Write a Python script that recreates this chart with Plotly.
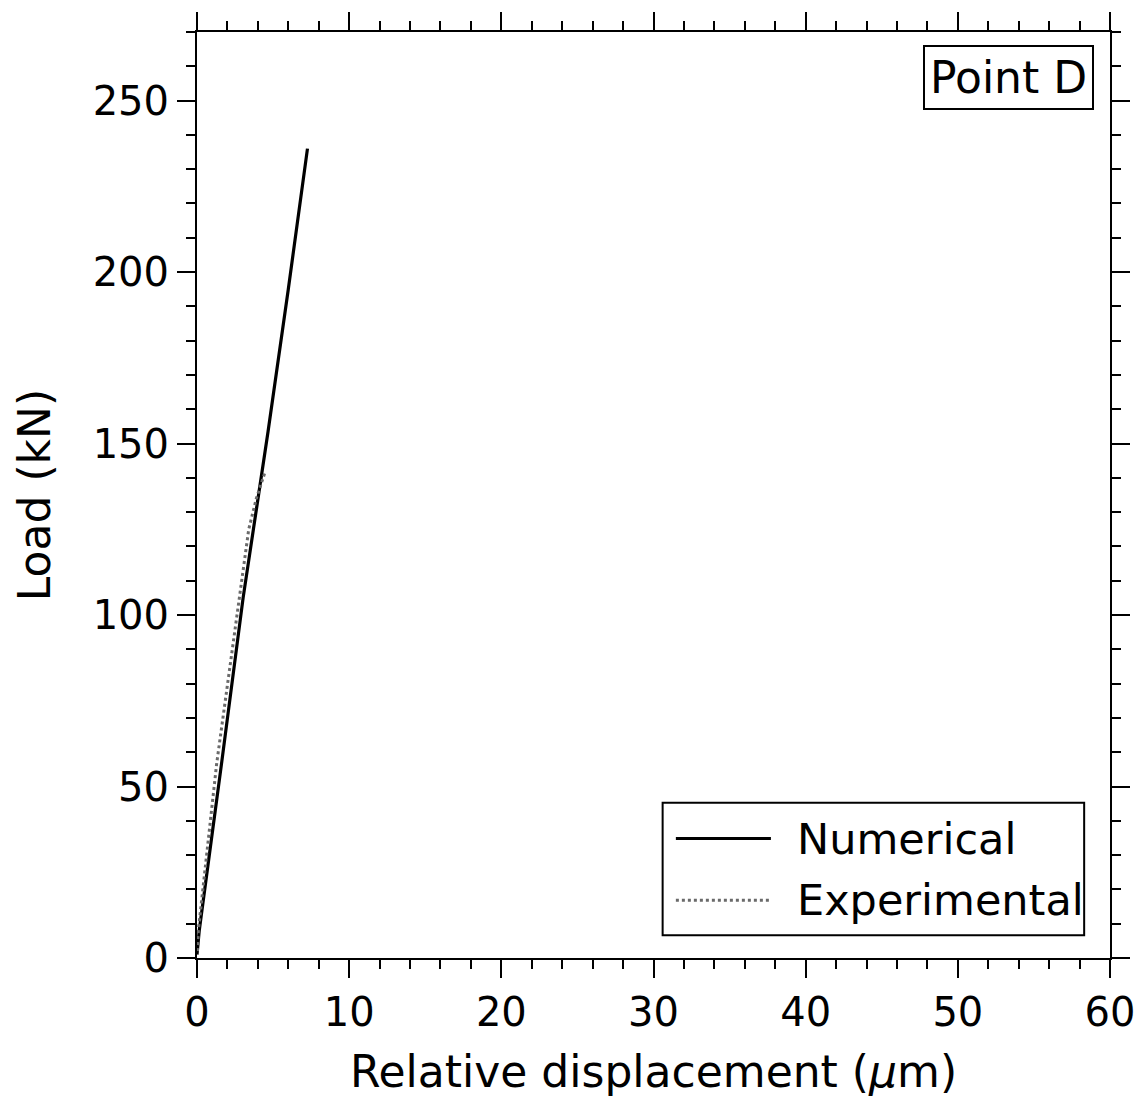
import plotly.graph_objects as go

# Data
num_x = [0.0, 0.15, 1.61, 3.03, 4.67, 6.0, 7.26]
num_y = [1.0, 8.1, 56.6, 105.0, 153.5, 195.0, 236.0]

exp_x = [0.03, 0.09, 1.29, 2.75, 3.40, 3.90, 4.45]
exp_y = [2.0, 8.1, 56.6, 105.0, 125.0, 134.0, 141.4]

x_ticks = [0, 10, 20, 30, 40, 50, 60]
y_ticks = [0, 50, 100, 150, 200, 250]

series_names = ["Numerical", "Experimental"]
series_colors = ["black", "#6a6a6a"]
series_dash = ["solid", "dot"]

FONT = "DejaVu Sans"

fig = go.Figure()
fig.add_trace(go.Scatter(x=num_x, y=num_y, mode="lines", name=series_names[0],
                         line=dict(color=series_colors[0], width=3.2, dash=series_dash[0])))
fig.add_trace(go.Scatter(x=exp_x, y=exp_y, mode="lines", name=series_names[1],
                         line=dict(color=series_colors[1], width=3, dash=series_dash[1])))

axis_common = dict(showline=True, linecolor="black", linewidth=2, mirror="ticks",
                   ticks="outside", ticklen=18, tickwidth=2, tickcolor="black",
                   showgrid=False, zeroline=False,
                   tickfont=dict(family=FONT, size=40, color="black"))

fig.update_xaxes(range=[0, 60], tickvals=x_ticks, ticktext=[str(v) for v in x_ticks],
                 title=dict(text="Relative displacement (<i>μ</i>m)",
                            font=dict(family=FONT, size=44, color="black"), standoff=22),
                 minor=dict(dtick=2, ticks="outside", ticklen=9, tickwidth=2, tickcolor="black"),
                 **axis_common)
fig.update_yaxes(range=[0, 270], tickvals=y_ticks, ticktext=[str(v) for v in y_ticks],
                 title=dict(text="Load (kN)", font=dict(family=FONT, size=44, color="black"),
                            standoff=28),
                 minor=dict(dtick=10, ticks="outside", ticklen=9, tickwidth=2, tickcolor="black"),
                 **axis_common)

# "Point D" label
fig.add_annotation(x=0.9826, y=0.9855, xref="paper", yref="paper", xanchor="right", yanchor="top",
                   text="Point D", showarrow=False,
                   font=dict(family=FONT, size=44, color="black"),
                   bordercolor="black", borderwidth=2, borderpad=5, bgcolor="white")

# Custom legend (box, line samples, labels) in paper coordinates
fig.add_shape(type="rect", xref="paper", yref="paper", x0=0.510, x1=0.9717, y0=0.0247, y1=0.1677,
              line=dict(color="black", width=2), fillcolor="white", layer="above")
leg_y = [0.129, 0.0624]
for name, col, dsh, yy in zip(series_names, series_colors, series_dash, leg_y):
    fig.add_shape(type="line", xref="paper", yref="paper", x0=0.5245, x1=0.6286, y0=yy, y1=yy,
                  line=dict(color=col, width=3, dash=dsh), layer="above")
    fig.add_annotation(x=0.6554, y=yy, xref="paper", yref="paper", xanchor="left", yanchor="middle",
                       text=name, showarrow=False,
                       font=dict(family=FONT, size=43, color="black"))

fig.update_layout(
    width=1147, height=1108,
    margin=dict(l=197, r=33, t=28, b=150),
    plot_bgcolor="white", paper_bgcolor="white",
    showlegend=False,
)

fig.write_html("out.html")
